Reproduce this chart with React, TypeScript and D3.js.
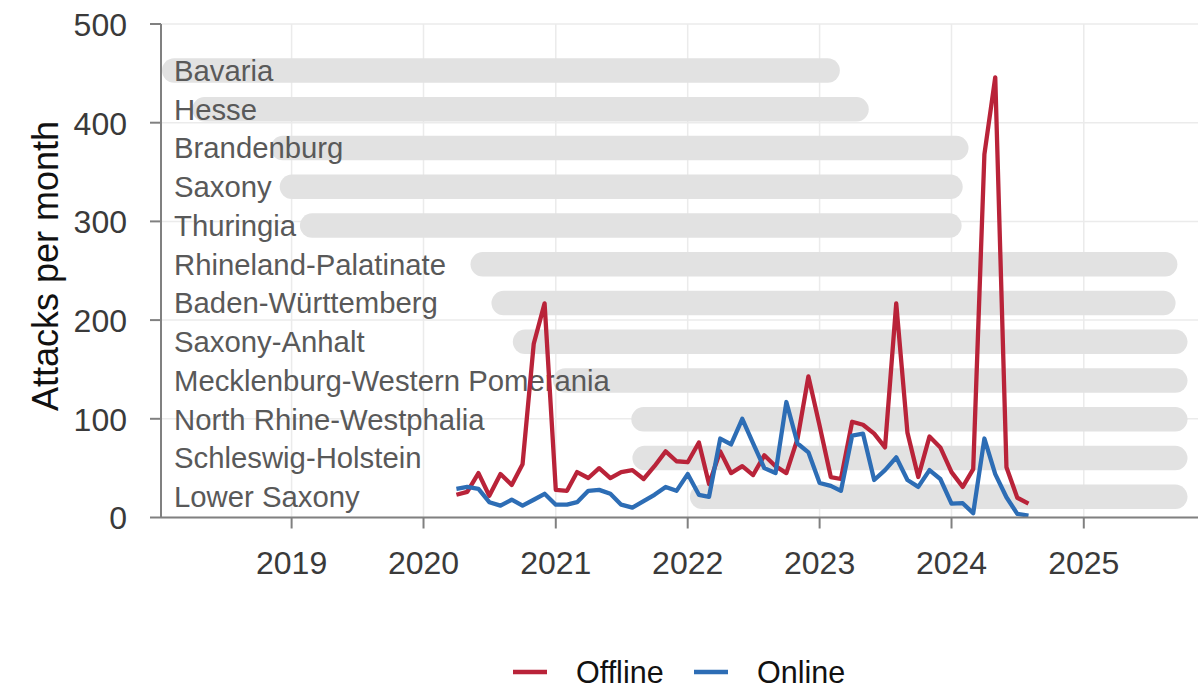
import React from "react";
import * as d3 from "d3";

const states = [
  "Bavaria",
  "Hesse",
  "Brandenburg",
  "Saxony",
  "Thuringia",
  "Rhineland-Palatinate",
  "Baden-Württemberg",
  "Saxony-Anhalt",
  "Mecklenburg-Western Pomerania",
  "North Rhine-Westphalia",
  "Schleswig-Holstein",
  "Lower Saxony",
];
const barStart = [
  "2018-01-07", "2018-04-01", "2018-11-04", "2018-11-29", "2019-01-24", "2020-05-10",
  "2020-07-07", "2020-09-04", "2020-12-24", "2021-07-29", "2021-08-01", "2022-01-07",
];
const barEnd = [
  "2023-02-26", "2023-05-17", "2024-02-17", "2024-02-01", "2024-01-29", "2025-09-17",
  "2025-09-12", "2025-10-15", "2025-10-15", "2025-10-15", "2025-10-15", "2025-10-15",
];

const firstMonth = "2020-04-01";
const offline = [
  23, 26, 45, 22, 44, 33, 54, 176, 217,
  28, 27, 46, 40, 50, 40, 46, 48, 39, 52, 67, 57,
  56, 76, 34, 67, 45, 52, 43, 63, 52, 45, 80, 143,
  93, 41, 39, 97, 94, 85, 71, 217, 86, 41, 82, 71,
  46, 31, 49, 368, 446, 51, 20, 14,
];
const online = [
  29, 31, 29, 15.5, 12, 18, 12, 18, 24,
  13, 13, 15.5, 27, 28, 24, 13, 10, 16.5, 23, 31, 27,
  44, 23, 21, 80, 74, 100, 75, 50, 45, 117, 75, 66,
  35, 32, 27, 83, 85, 38, 48, 61, 38, 31, 48, 39,
  14, 14.5, 4.4, 80, 44, 20.5, 3.7, 2,
];
const yTicks = [0, 100, 200, 300, 400, 500];
const xTickYears = [2019, 2020, 2021, 2022, 2023, 2024, 2025];
const seriesNames = ["Offline", "Online"];
const seriesColors = ["#b92339", "#2d6db5"];

const W = 1200;
const H = 689;
const panelLeft = 161;
const panelRight = 1198;
const FONT = "'Liberation Sans', Arial, Helvetica, sans-serif";

export default function App() {
  const x = d3
    .scaleTime()
    .domain([new Date(2018, 0, 1), new Date(2026, 0, 1)])
    .range([159.7, 159.7 + 8 * 132]);
  const y = d3.scaleLinear().domain([0, 500]).range([517.5, 24]);
  const row = d3.scalePoint<string>().domain(states).range([70.5, 496.8]);

  const parse = d3.timeParse("%Y-%m-%d");
  const start = parse(firstMonth) as Date;
  const mk = (vals: number[]) =>
    vals.map((v, i) => ({ date: d3.timeMonth.offset(start, i), v }));
  const series = [mk(offline), mk(online)];
  const line = d3
    .line<{ date: Date; v: number }>()
    .x((d) => x(d.date))
    .y((d) => y(d.v));

  const barH = 24.4;
  const axisColor = "#808080";
  const gridColor = "#ebebeb";

  return (
    <div style={{ position: "fixed", left: 0, top: 0, width: W, height: H, background: "#fff" }}>
      <svg width={W} height={H} style={{ display: "block", fontFamily: FONT }}>
        <rect width={W} height={H} fill="#fff" />
        {/* grid */}
        {yTicks.map((t) => (
          <line key={"gy" + t} x1={panelLeft} x2={panelRight} y1={y(t)} y2={y(t)} stroke={gridColor} strokeWidth={1.5} />
        ))}
        {xTickYears.map((yr) => {
          const xx = x(new Date(yr, 0, 1));
          return <line key={"gx" + yr} x1={xx} x2={xx} y1={y(500)} y2={y(0)} stroke={gridColor} strokeWidth={1.5} />;
        })}
        {/* state bars */}
        {states.map((s, i) => {
          const x0 = Math.max(panelLeft + 1, x(parse(barStart[i]) as Date));
          const x1 = x(parse(barEnd[i]) as Date);
          return (
            <rect
              key={"b" + s}
              x={x0}
              y={(row(s) as number) - barH / 2}
              width={x1 - x0}
              height={barH}
              rx={barH / 2}
              ry={barH / 2}
              fill="#e2e2e2"
            />
          );
        })}
        {states.map((s) => (
          <text key={"t" + s} x={174} y={row(s) as number} dy="0.35em" fontSize={29.3} fill="#595959">
            {s}
          </text>
        ))}
        {/* lines */}
        {series.map((sr, i) => (
          <path
            key={"l" + i}
            d={line(sr) as string}
            fill="none"
            stroke={seriesColors[i]}
            strokeWidth={4.3}
            strokeLinejoin="round"
            strokeLinecap="butt"
          />
        ))}
        {/* axes */}
        <line x1={panelLeft} x2={panelLeft} y1={y(500)} y2={y(0)} stroke={axisColor} strokeWidth={2} />
        <line x1={panelLeft} x2={panelRight} y1={y(0)} y2={y(0)} stroke={axisColor} strokeWidth={2} />
        {yTicks.map((t) => (
          <g key={"yt" + t}>
            <line x1={150} x2={panelLeft} y1={y(t)} y2={y(t)} stroke={axisColor} strokeWidth={2} />
            <text x={127} y={y(t)} dy="0.37em" textAnchor="end" fontSize={32} fill="#3a3a3a">
              {t}
            </text>
          </g>
        ))}
        {xTickYears.map((yr) => {
          const xx = x(new Date(yr, 0, 1));
          return (
            <g key={"xt" + yr}>
              <line x1={xx} x2={xx} y1={y(0)} y2={y(0) + 11} stroke={axisColor} strokeWidth={2} />
              <text x={xx} y={574} textAnchor="middle" fontSize={32} fill="#3a3a3a">
                {yr}
              </text>
            </g>
          );
        })}
        <text transform="translate(58,266) rotate(-90)" textAnchor="middle" fontSize={36} fill="#111">
          Attacks per month
        </text>
        {/* legend */}
        {seriesNames.map((n, i) => {
          const lx = [513, 694][i];
          return (
            <g key={"lg" + n}>
              <line x1={lx} x2={lx + 34} y1={672} y2={672} stroke={seriesColors[i]} strokeWidth={4.3} />
              <text x={lx + 63} y={683} fontSize={30.5} fill="#111">
                {n}
              </text>
            </g>
          );
        })}
      </svg>
    </div>
  );
}
